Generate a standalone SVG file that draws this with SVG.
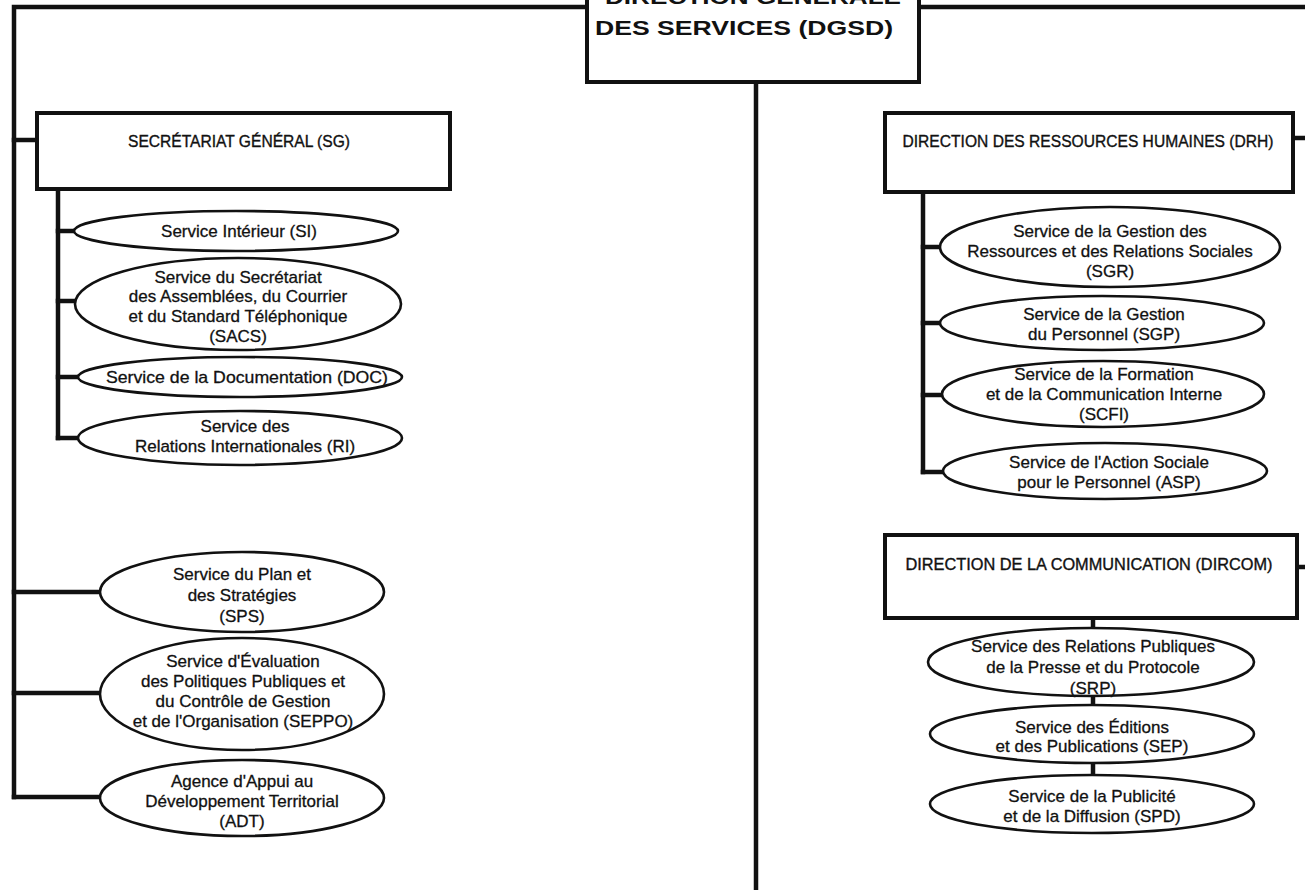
<svg xmlns="http://www.w3.org/2000/svg" width="1305" height="890" viewBox="0 0 1305 890">
<style>
.bg{fill:#ffffff}
.box{fill:#ffffff;stroke:#111;stroke-width:4}
.ell{fill:#ffffff;stroke:#111;stroke-width:2.6}
.ln{fill:none;stroke:#111;stroke-width:4.5;stroke-linecap:square}
.t{font-family:"Liberation Sans",Arial,sans-serif;font-size:17px;fill:#111;stroke:#111;stroke-width:0.3;text-anchor:middle}
.h{font-family:"Liberation Sans",Arial,sans-serif;font-size:16px;fill:#111;stroke:#111;stroke-width:0.35;text-anchor:middle}
.b{font-family:"Liberation Sans",Arial,sans-serif;font-size:21px;font-weight:bold;fill:#111;text-anchor:middle}
</style>
<rect class="bg" x="0" y="0" width="1305" height="890"/>
<g id="connectors">
<path class="ln" d="M587 7 H14 V797"/>
<path class="ln" d="M919 7 H1307"/>
<path class="ln" d="M756 82 V892"/>
<path class="ln" d="M14 140 H37"/>
<path class="ln" d="M58 189 V438"/>
<path class="ln" d="M58 231 H75 M58 301 H75 M58 377 H77 M58 438 H78"/>
<path class="ln" d="M14 592 H100 M14 693 H100 M14 797 H100"/>
<path class="ln" d="M1293 138 H1307 M1297 567 H1307"/>
<path class="ln" d="M923 192 V472"/>
<path class="ln" d="M923 247 H940 M923 323 H940 M923 395 H942 M923 472 H943"/>
<path class="ln" d="M1093 618 V628 M1093 696 V705 M1093 762 V775"/>
</g>
<g id="dgsd">
<rect class="box" x="587" y="-10" width="332" height="92"/>
<text class="b" x="753" y="4" textLength="296" lengthAdjust="spacingAndGlyphs">DIRECTION GÉNÉRALE</text>
<text class="b" x="744" y="35" textLength="298" lengthAdjust="spacingAndGlyphs">DES SERVICES (DGSD)</text>
</g>
<g id="sg">
<rect class="box" x="37" y="113" width="413" height="76"/>
<text class="h" x="239" y="147" textLength="222" lengthAdjust="spacingAndGlyphs">SECRÉTARIAT GÉNÉRAL (SG)</text>
</g>
<g id="si">
<ellipse class="ell" cx="236" cy="231" rx="162" ry="20"/>
<text class="t" x="239" y="237">Service Intérieur (SI)</text>
</g>
<g id="sacs">
<ellipse class="ell" cx="238" cy="304" rx="163" ry="46"/>
<text class="t" x="238" y="283">Service du Secrétariat</text>
<text class="t" x="238" y="302">des Assemblées, du Courrier</text>
<text class="t" x="238" y="322">et du Standard Téléphonique</text>
<text class="t" x="238" y="342">(SACS)</text>
</g>
<g id="doc">
<ellipse class="ell" cx="240" cy="377" rx="162" ry="20"/>
<text class="t" x="247" y="383" textLength="282" lengthAdjust="spacingAndGlyphs">Service de la Documentation (DOC)</text>
</g>
<g id="ri">
<ellipse class="ell" cx="240" cy="438" rx="162" ry="27"/>
<text class="t" x="245" y="432">Service des</text>
<text class="t" x="245" y="452">Relations Internationales (RI)</text>
</g>
<g id="sps">
<ellipse class="ell" cx="242" cy="592" rx="142" ry="40"/>
<text class="t" x="242" y="580">Service du Plan et</text>
<text class="t" x="242" y="601">des Stratégies</text>
<text class="t" x="242" y="622">(SPS)</text>
</g>
<g id="seppo">
<ellipse class="ell" cx="242" cy="694" rx="142" ry="56"/>
<text class="t" x="243" y="667">Service d'Évaluation</text>
<text class="t" x="243" y="687">des Politiques Publiques et</text>
<text class="t" x="243" y="707">du Contrôle de Gestion</text>
<text class="t" x="243" y="727">et de l'Organisation (SEPPO)</text>
</g>
<g id="adt">
<ellipse class="ell" cx="242" cy="798" rx="142" ry="38"/>
<text class="t" x="242" y="787">Agence d'Appui au</text>
<text class="t" x="242" y="807">Développement Territorial</text>
<text class="t" x="242" y="827">(ADT)</text>
</g>
<g id="drh">
<rect class="box" x="885" y="113" width="408" height="79"/>
<text class="h" x="1088" y="147" textLength="371" lengthAdjust="spacingAndGlyphs">DIRECTION DES RESSOURCES HUMAINES (DRH)</text>
</g>
<g id="sgr">
<ellipse class="ell" cx="1110" cy="247" rx="170" ry="40"/>
<text class="t" x="1110" y="237">Service de la Gestion des</text>
<text class="t" x="1110" y="257">Ressources et des Relations Sociales</text>
<text class="t" x="1110" y="277">(SGR)</text>
</g>
<g id="sgp">
<ellipse class="ell" cx="1102" cy="323" rx="162" ry="27"/>
<text class="t" x="1104" y="320">Service de la Gestion</text>
<text class="t" x="1104" y="340">du Personnel (SGP)</text>
</g>
<g id="scfi">
<ellipse class="ell" cx="1103" cy="394" rx="161" ry="33"/>
<text class="t" x="1104" y="380">Service de la Formation</text>
<text class="t" x="1104" y="400">et de la Communication Interne</text>
<text class="t" x="1104" y="420">(SCFI)</text>
</g>
<g id="asp">
<ellipse class="ell" cx="1105" cy="471" rx="162" ry="28"/>
<text class="t" x="1109" y="468">Service de l'Action Sociale</text>
<text class="t" x="1109" y="488">pour le Personnel (ASP)</text>
</g>
<g id="dircom">
<rect class="box" x="885" y="535" width="412" height="83"/>
<text class="h" x="1089" y="570" textLength="367" lengthAdjust="spacingAndGlyphs">DIRECTION DE LA COMMUNICATION (DIRCOM)</text>
</g>
<g id="srp">
<ellipse class="ell" cx="1091" cy="662" rx="163" ry="34"/>
<text class="t" x="1093" y="652">Service des Relations Publiques</text>
<text class="t" x="1093" y="673">de la Presse et du Protocole</text>
<text class="t" x="1093" y="694">(SRP)</text>
</g>
<g id="sep">
<ellipse class="ell" cx="1092" cy="734" rx="162" ry="29"/>
<text class="t" x="1092" y="733">Service des Éditions</text>
<text class="t" x="1092" y="752">et des Publications (SEP)</text>
</g>
<g id="spd">
<ellipse class="ell" cx="1092" cy="804" rx="162" ry="29"/>
<text class="t" x="1092" y="802">Service de la Publicité</text>
<text class="t" x="1092" y="822">et de la Diffusion (SPD)</text>
</g>
</svg>
